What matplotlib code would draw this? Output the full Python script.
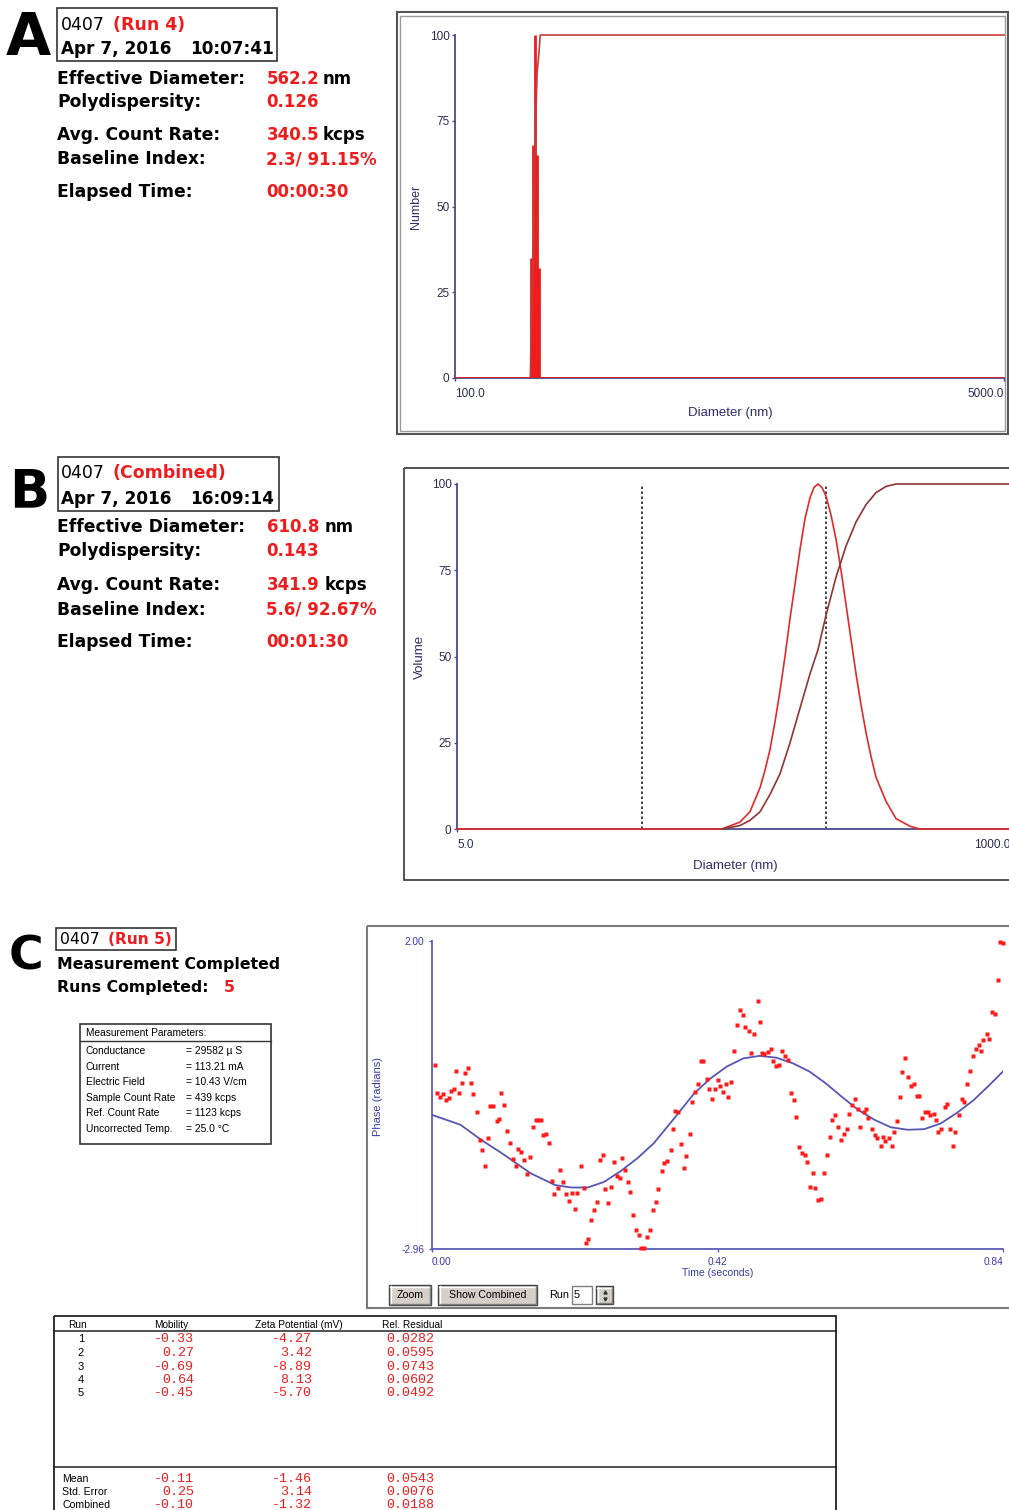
import matplotlib
matplotlib.use("Agg")
import matplotlib.pyplot as plt
from matplotlib.patches import Rectangle
from matplotlib.ticker import NullLocator

W, H = 1009, 1510

# ---------------- data ----------------
# panel A: number distribution (spikes) and cumulative
a_diam = [172, 174.5, 177, 179.5, 182]
a_number = [35, 68, 100, 65, 32]
a_cum_diam = [171, 172, 174.5, 177, 179.5, 182, 183.5, 5000]
a_cum = [0, 12, 34, 68, 89, 95, 100, 100]

# panel B: volume distribution, cumulative, cut-off markers
b_vol_diam = [5, 63.3, 75.2, 82.8, 91.2, 95.6, 100.3, 105.2, 110.4, 115.8, 121.5,
              127.5, 133.7, 140.3, 147.2, 152.9, 158.9, 165.1, 171.6, 180.0, 188.8,
              198.1, 207.8, 218.0, 228.7, 239.9, 251.6, 264.1, 277.0, 304.9, 335.6,
              383.6, 422.2, 1000]
b_vol = [0, 0, 2, 5, 12, 17, 23, 31, 40, 50, 61,
         71, 81, 90, 96, 99, 100, 99, 96.5, 91, 84,
         75, 65, 55, 45, 36, 28, 21, 15, 8, 3,
         0.8, 0, 0]
b_cum_diam = [63.3, 75.2, 82.8, 91.2, 100.3, 110.4, 121.5, 133.7, 147.2, 158.9, 171.6,
              188.8, 207.8, 228.7, 251.6, 277.0, 304.9, 335.6, 1000]
b_cum = [0, 1, 2.5, 5, 10, 16, 25, 35, 45, 52, 62, 73, 82, 89, 94, 97.5, 99.3, 100, 100]
b_cut = [29.4, 171.6]

# panel C: phase plot, fitted curve and measured points
fit_t = [0.000, 0.042, 0.072, 0.103, 0.145, 0.181, 0.205, 0.229, 0.253, 0.277, 0.302,
         0.326, 0.356, 0.386, 0.410, 0.434, 0.458, 0.482, 0.507, 0.531, 0.555, 0.579,
         0.603, 0.627, 0.651, 0.675, 0.700, 0.724, 0.748, 0.772, 0.796, 0.820, 0.840]
fit_phase = [-0.80, -0.96, -1.20, -1.42, -1.74, -1.93, -1.97, -1.97, -1.88, -1.71, -1.50,
             -1.26, -0.86, -0.45, -0.21, -0.02, 0.11, 0.15, 0.12, 0.03, -0.10, -0.29,
             -0.51, -0.72, -0.88, -1.00, -1.04, -1.03, -0.94, -0.77, -0.57, -0.32, -0.10]

pts_t = [
    0.004, 0.008, 0.012, 0.016, 0.021, 0.025, 0.028, 0.032, 0.036, 0.040,
    0.044, 0.049, 0.053, 0.057, 0.061, 0.066, 0.070, 0.074, 0.078, 0.082,
    0.086, 0.090, 0.095, 0.098, 0.102, 0.106, 0.110, 0.115, 0.119, 0.123,
    0.127, 0.131, 0.136, 0.140, 0.144, 0.149, 0.153, 0.156, 0.161, 0.164,
    0.168, 0.172, 0.177, 0.180, 0.185, 0.189, 0.193, 0.197, 0.202, 0.206,
    0.210, 0.214,
    0.219, 0.223, 0.226, 0.230, 0.234, 0.238, 0.242, 0.247, 0.251, 0.255,
    0.259, 0.263, 0.268, 0.272, 0.276, 0.280, 0.284, 0.289, 0.292, 0.296,
    0.300, 0.304, 0.308, 0.312, 0.317, 0.321, 0.325, 0.330, 0.333, 0.338,
    0.342, 0.346, 0.351, 0.355, 0.358, 0.362, 0.366, 0.370, 0.374, 0.379,
    0.383, 0.387, 0.391, 0.395, 0.399, 0.404, 0.408, 0.412, 0.416, 0.421,
    0.424, 0.428, 0.432, 0.436, 0.440, 0.445, 0.449, 0.453, 0.458, 0.461,
    0.466, 0.470, 0.474, 0.479, 0.483, 0.486, 0.489, 0.494, 0.498, 0.502,
    0.506, 0.511, 0.515, 0.519, 0.523, 0.528, 0.532, 0.536, 0.540, 0.544,
    0.548, 0.551, 0.556, 0.560, 0.564, 0.568, 0.572, 0.577, 0.581, 0.585,
    0.589, 0.593, 0.598, 0.602, 0.606, 0.610, 0.614, 0.618, 0.622, 0.626,
    0.630,
    0.635, 0.638, 0.642, 0.647, 0.651, 0.655, 0.660, 0.663, 0.667, 0.672,
    0.676, 0.679, 0.684, 0.688, 0.692, 0.696, 0.700, 0.704, 0.709, 0.713,
    0.716, 0.721, 0.725, 0.729, 0.733, 0.738, 0.741, 0.745, 0.749, 0.754,
    0.758, 0.762, 0.766, 0.770, 0.775, 0.779, 0.783, 0.787, 0.791, 0.796,
    0.800, 0.804, 0.808, 0.811, 0.816, 0.819, 0.824, 0.828, 0.832, 0.836,
    0.840]
pts_phase = [
    0.01, -0.44, -0.51, -0.46, -0.56, -0.53, -0.41, -0.39, -0.09, -0.45,
    -0.29, -0.13, -0.04, -0.28, -0.46, -0.75, -1.21, -1.37, -1.63, -1.17,
    -0.65, -0.65, -0.90, -0.87, -0.45, -0.64, -1.06, -1.25, -1.51, -1.63,
    -1.35, -1.40, -1.52, -1.76, -1.48, -1.00, -0.88, -0.88, -0.88, -1.12,
    -1.11, -1.25, -1.86, -2.08, -1.98, -1.69, -1.88, -2.08, -2.19, -2.06,
    -2.31, -2.06,
    -1.62, -1.97, -2.87, -2.80, -2.49, -2.33, -2.20, -1.53, -1.45, -2.00,
    -2.22, -1.96, -1.56, -1.78, -1.82, -1.49, -1.68, -1.88, -2.05, -2.42,
    -2.66, -2.74, -2.95, -2.94, -2.77, -2.66, -2.33, -2.20, -1.99, -1.71,
    -1.57, -1.54, -1.37, -1.02, -0.74, -0.75, -1.27, -1.65, -1.47, -1.11,
    -0.60, -0.43, -0.30, 0.07, 0.06, -0.22, -0.38, -0.54, -0.38, -0.24,
    -0.33, -0.43, -0.30, -0.52, -0.27, 0.23, 0.65, 0.89, 0.81, 0.61,
    0.55, 0.20, 0.51, 1.03, 0.70, 0.20, 0.18, 0.21, 0.26, 0.06,
    -0.02, 0.00, 0.23, 0.15, 0.09, -0.45, -0.56, -0.83, -1.31, -1.41,
    -1.44, -1.56, -1.96, -1.74, -1.97, -2.17, -2.16, -1.73, -1.44, -1.15,
    -0.88, -0.80, -1.00, -1.21, -1.11, -1.02, -0.79, -0.64, -0.54, -0.70,
    -0.99,
    -0.75, -0.70, -0.85, -1.03, -1.12, -1.18, -1.30, -1.16, -1.22, -1.17,
    -1.30, -1.08, -0.90, -0.51, -0.11, 0.11, -0.19, -0.34, -0.30, -0.50,
    -0.50, -0.85, -0.75, -0.76, -0.81, -0.78, -0.88, -1.08, -1.02, -0.67,
    -0.62, -1.03, -1.30, -1.07, -0.81, -0.54, -0.59, -0.30, -0.10, 0.15,
    0.26, 0.32, 0.23, 0.40, 0.50, 0.42, 0.86, 0.83, 1.38, 1.99,
    1.96]

# text blocks
row_labels = ["Effective Diameter:", "Polydispersity:", "Avg. Count Rate:",
              "Baseline Index:", "Elapsed Time:"]
row_units = ["nm", "", "kcps", "", ""]
a_values = ["562.2", "0.126", "340.5", "2.3/ 91.15%", "00:00:30"]
b_values = ["610.8", "0.143", "341.9", "5.6/ 92.67%", "00:01:30"]

mp_labels = ["Conductance", "Current", "Electric Field", "Sample Count Rate",
             "Ref. Count Rate", "Uncorrected Temp."]
mp_values = ["= 29582 \u00b5 S", "= 113.21 mA", "= 10.43 V/cm", "= 439 kcps",
             "= 1123 kcps", "= 25.0 \u00b0C"]

runs = [1, 2, 3, 4, 5]
mobility = [-0.33, 0.27, -0.69, 0.64, -0.45]
zeta = [-4.27, 3.42, -8.89, 8.13, -5.70]
residual = [0.0282, 0.0595, 0.0743, 0.0602, 0.0492]
summary_labels = ["Mean", "Std. Error", "Combined"]
summary_mobility = [-0.11, 0.25, -0.10]
summary_zeta = [-1.46, 3.14, -1.32]
summary_residual = [0.0543, 0.0076, 0.0188]

RED = "#ee1c1c"
BIG = "DejaVu Sans"
UI = "Liberation Sans"
MONO = "Liberation Mono"
plt.rcParams["font.family"] = UI

fig = plt.figure(figsize=(W / 100, H / 100), dpi=100)
bg = fig.add_axes([0, 0, 1, 1])
bg.set_xlim(0, W)
bg.set_ylim(H, 0)
bg.axis("off")


def px_axes(x0, y0, x1, y1):
    ax = fig.add_axes([x0 / W, 1 - y1 / H, (x1 - x0) / W, (y1 - y0) / H])
    ax.set_facecolor("none")
    return ax


def txt(x, y, s, size, color="black", weight="normal", family=BIG,
        ha="left", va="baseline", rot=0):
    bg.text(x, y, s, fontsize=size, color=color, fontweight=weight,
            family=family, ha=ha, va=va, rotation=rot)


def rect(x0, y0, x1, y1, ec="black", lw=1.0, fc="none"):
    bg.add_patch(Rectangle((x0, y0), x1 - x0, y1 - y0, ec=ec, fc=fc, lw=lw))


def style(ax, color, labelcolor, size, xpad, ypad):
    for s in ["top", "right"]:
        ax.spines[s].set_visible(False)
    for s in ["left", "bottom"]:
        ax.spines[s].set_color(color)
        ax.spines[s].set_linewidth(1.3)
    ax.tick_params(colors=color, labelcolor=labelcolor, labelsize=size,
                   length=2.5, width=1)
    ax.tick_params(axis="x", pad=xpad)
    ax.tick_params(axis="y", pad=ypad)
    ax.xaxis.set_minor_locator(NullLocator())
    ax.yaxis.set_minor_locator(NullLocator())


def ends(ax):
    labs = ax.get_xticklabels()
    labs[0].set_ha("left")
    labs[-1].set_ha("right")


# ---------------- left text blocks A / B ----------------
def info_block(letter, lsize, lx, lbase, box, hdr_base, run_txt, date, time,
               values, unit_x, bases):
    txt(lx, lbase, letter, lsize, weight="bold")
    rect(*box, ec="#333333", lw=1.2)
    txt(61, hdr_base[0], "0407", 12.5)
    txt(113, hdr_base[0], run_txt, 12.5, color=RED, weight="bold")
    txt(61, hdr_base[1], date, 12.2, weight="bold")
    txt(190, hdr_base[1], time, 12.2, weight="bold")
    for lab, val, unit, yb in zip(row_labels, values, row_units, bases):
        txt(57, yb, lab, 12.3, weight="bold")
        txt(266.5, yb, val, 12.0, color=RED, weight="bold")
        if unit:
            txt(unit_x, yb, unit, 12.0, weight="bold")


info_block("A", 42, 6, 55, (57, 7.5, 277, 61), (29.5, 53.5), "(Run 4)",
           "Apr 7, 2016", "10:07:41", a_values, 323, [83.5, 107, 139.5, 164, 197])
info_block("B", 38, 9, 507, (57.5, 456.5, 278.5, 511), (478.5, 503.5),
           "(Combined)", "Apr 7, 2016", "16:09:14", b_values, 325,
           [532, 556, 590, 615, 647])

# ---------------- panel A chart ----------------
rect(396.5, 12, 1008, 434, ec="#555555", lw=1.5)
rect(400, 16, 1005, 430.5, ec="#9a9a9a", lw=1.0)
axA = px_axes(455, 35, 1004, 378)
axA.set_xscale("log")
axA.set_xlim(100, 5000)
axA.set_ylim(0, 100)
axA.axhline(0, color=RED, lw=1.2, zorder=3)
axA.vlines(a_diam, 0, a_number, color=RED, lw=2.0)
axA.plot(a_cum_diam, a_cum, color="#c43c3c", lw=1.2, clip_on=False)
axA.set_yticks([0, 25, 50, 75, 100])
axA.set_xticks([100, 5000], ["100.0", "5000.0"])
style(axA, "#4a4a8a", "#2b2b50", 8.5, 4.5, 1.5)
ends(axA)
txt(416, 207, "Number", 9, color="#2d2d6d", family=UI, ha="center",
    va="center", rot=90)
txt(730, 413, "Diameter (nm)", 9.5, color="#2d2d6d", family=UI, ha="center",
    va="center")

# ---------------- panel B chart ----------------
rect(403.5, 467.5, 1020, 880, ec="#444444", lw=1.3)
axB = px_axes(457, 484, 1010, 829)
axB.set_xscale("log")
axB.set_xlim(5, 1000)
axB.set_ylim(0, 100)
axB.vlines(b_cut, 0, 100, colors="#222222", linestyles=(0, (1.5, 1.5)), lw=1.2)
axB.plot(b_vol_diam, b_vol, color="#e02a2a", lw=1.2, clip_on=False, zorder=3)
axB.plot(b_cum_diam, b_cum, color="#8e3434", lw=1.2, clip_on=False, zorder=3)
axB.set_yticks([0, 25, 50, 75, 100])
axB.set_xticks([5, 1000], ["5.0", "1000.0"])
style(axB, "#4a4a8a", "#2b2b50", 8.5, 4.5, 1.5)
ends(axB)
txt(420, 657, "Volume", 9.5, color="#2d2d6d", family=UI, ha="center",
    va="center", rot=90)
txt(735, 866, "Diameter (nm)", 9.5, color="#2d2d6d", family=UI, ha="center",
    va="center")

# ---------------- panel C left ----------------
txt(9, 970, "C", 34, weight="bold")
rect(55.5, 928, 176, 949.5, ec="#333333", lw=1.2)
txt(60, 943.5, "0407", 11.3)
txt(108.5, 943.5, "(Run 5)", 11.1, color=RED, weight="bold")
txt(57, 968.5, "Measurement Completed", 11.3, weight="bold")
txt(57, 992, "Runs Completed:", 11.3, weight="bold")
txt(224, 992, "5", 11.3, color=RED, weight="bold")

rect(80, 1024, 271, 1144, ec="#333333", lw=1.2)
bg.plot([80, 271], [1041, 1041], color="#333333", lw=1)
txt(86, 1033, "Measurement Parameters:", 7.3, family=UI, va="center")
for i, (lab, val) in enumerate(zip(mp_labels, mp_values)):
    y = 1051 + 15.6 * i
    txt(86, y, lab, 7.4, family=UI, va="center")
    txt(186, y, val, 7.4, family=UI, va="center")

# ---------------- panel C chart ----------------
rect(367, 925.5, 1020, 1308, ec="#7a7a7a", lw=1.5)
axC = px_axes(432, 941, 1003, 1249)
axC.set_xlim(0, 0.84)
axC.set_ylim(-2.96, 2.00)
axC.plot(fit_t, fit_phase, color="#5656b4", lw=1.3, zorder=2)
axC.plot(pts_t, pts_phase, "s", ms=2.2, color="#ff1a1a", mec="none",
         clip_on=False, zorder=3)
axC.set_yticks([-2.96, 2.00], ["-2.96", "2.00"])
axC.set_xticks([0, 0.42, 0.84], ["0.00", "0.42", "0.84"])
style(axC, "#5c5cb8", "#3a3aa0", 7.3, 3.5, 3.0)
ends(axC)
txt(378, 1097, "Phase (radians)", 8, color="#3a3aa0", family=UI, ha="center",
    va="center", rot=90)
txt(718, 1273, "Time (seconds)", 7.5, color="#3a3aa0", family=UI, ha="center",
    va="center")


def button(x0, y0, x1, y1, label):
    rect(x0, y0, x1, y1, ec="#404040", lw=1.0, fc="#d4d0c8")
    bg.plot([x0 + 1, x1 - 1], [y0 + 1.5, y0 + 1.5], color="white", lw=1)
    bg.plot([x0 + 1.5, x0 + 1.5], [y0 + 1, y1 - 1], color="white", lw=1)
    bg.plot([x0 + 1, x1 - 1.5], [y1 - 1.5, y1 - 1.5], color="#808080", lw=1)
    bg.plot([x1 - 1.5, x1 - 1.5], [y0 + 1, y1 - 1], color="#808080", lw=1)
    if label:
        txt((x0 + x1) / 2, (y0 + y1) / 2 + 0.5, label, 7.6, family=UI,
            ha="center", va="center")


button(389, 1285, 431, 1305, "Zoom")
button(438, 1285, 537, 1305, "Show Combined")
txt(549, 1295, "Run", 7.8, family=UI, va="center")
rect(571.5, 1286, 592, 1304, ec="#808080", lw=1.0, fc="white")
txt(574, 1295, "5", 7.8, family=UI, va="center")
button(596, 1286, 613, 1304, "")
bg.plot([604.5], [1291.5], marker="^", ms=2.2, color="#333333")
bg.plot([604.5], [1299], marker="v", ms=2.2, color="#333333")

# ---------------- results table ----------------
rect(53.5, 1316, 836, 1530, ec="#222222", lw=1.3)
bg.plot([53.5, 836], [1330.5, 1330.5], color="#222222", lw=1.1)
bg.plot([53.5, 836], [1467, 1467], color="#222222", lw=1.1)
for name, xc in zip(["Run", "Mobility", "Zeta Potential (mV)", "Rel. Residual"],
                    [77.5, 171.5, 298.5, 412.5]):
    txt(xc, 1324.5, name, 7.3, family=UI, ha="center", va="center")

for i, (r, m, z, res) in enumerate(zip(runs, mobility, zeta, residual)):
    y = 1339.5 + 13.5 * i
    txt(81, y, str(r), 8, family=UI, ha="center", va="center")
    txt(194, y, f"{m:.2f}", 9.6, color=RED, family=MONO, ha="right", va="center")
    txt(312, y, f"{z:.2f}", 9.6, color=RED, family=MONO, ha="right", va="center")
    txt(386.5, y, f"{res:.4f}", 9.6, color=RED, family=MONO, va="center")

for i, (lab, m, z, res) in enumerate(zip(summary_labels, summary_mobility,
                                         summary_zeta, summary_residual)):
    y = 1478.5 + 13.5 * i
    txt(62.5, y, lab, 7.6, family=UI, va="center")
    txt(194, y, f"{m:.2f}", 9.6, color=RED, family=MONO, ha="right", va="center")
    txt(312, y, f"{z:.2f}", 9.6, color=RED, family=MONO, ha="right", va="center")
    txt(386.5, y, f"{res:.4f}", 9.6, color=RED, family=MONO, va="center")

fig.savefig("out.png", dpi=100)
